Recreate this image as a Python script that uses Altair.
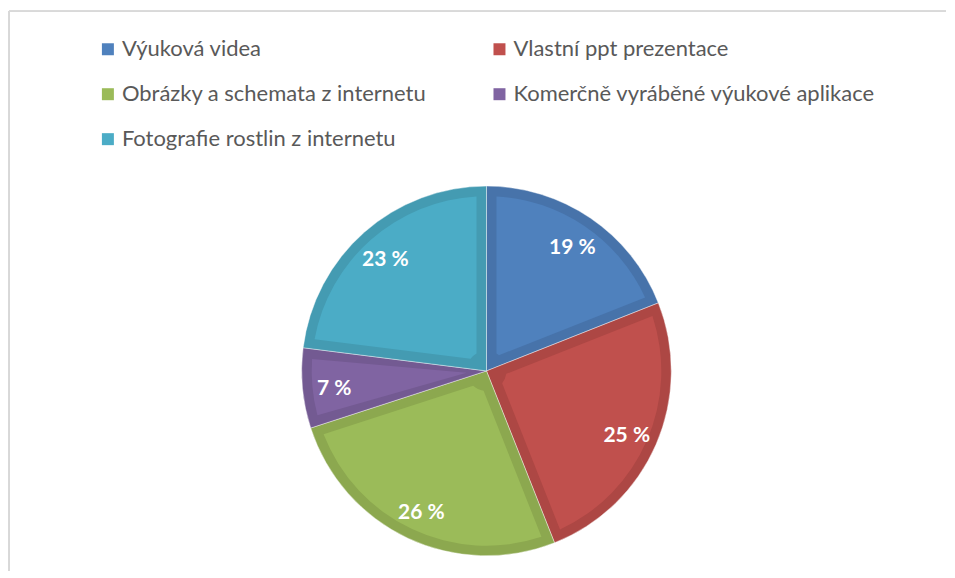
import altair as alt
import pandas as pd

categories = [
    "Výuková videa",
    "Vlastní ppt prezentace",
    "Obrázky a schemata z internetu",
    "Komerčně vyráběné výukové aplikace",
    "Fotografie rostlin z internetu",
]
values = [19, 25, 26, 7, 23]
labels = ["19 %", "25 %", "26 %", "7 %", "23 %"]
fill_colors = ["#4F81BD", "#C0504D", "#9BBB59", "#8064A2", "#4BACC6"]
band_colors = ["#4773AA", "#AD4744", "#8CA84F", "#735A92", "#449BB2"]

# legend is laid out column by column: this order gives the reference's rows
legend_order = [0, 2, 4, 1, 3]

df = pd.DataFrame({
    "cat": categories,
    "val": values,
    "lab": labels,
    "idx": list(range(len(categories))),
})

leg_domain = [categories[i] for i in legend_order]
leg_fill = [fill_colors[i] for i in legend_order]
leg_band = [band_colors[i] for i in legend_order]

W, H = 938, 560
CX, CY = 478, 360
R = 185

base = alt.Chart(df).encode(
    theta=alt.Theta("val:Q", stack=True),
    order=alt.Order("idx:Q"),
    x=alt.value(CX),
    y=alt.value(CY),
)

band = base.mark_arc(outerRadius=R, stroke="white", strokeWidth=0.8, strokeOpacity=0.5).encode(
    color=alt.Color("cat:N", scale=alt.Scale(domain=leg_domain, range=leg_band), legend=None)
)

inner = base.mark_arc(outerRadius=R - 10, innerRadius=20, padAngle=0.1136).encode(
    fill=alt.Fill(
        "cat:N",
        scale=alt.Scale(domain=leg_domain, range=leg_fill),
        legend=alt.Legend(
            title=None,
            orient="none",
            legendX=88,
            legendY=27,
            columns=2,
            columnPadding=62,
            rowPadding=23,
            symbolType="square",
            symbolSize=144,
            symbolStrokeWidth=0,
            labelFontSize=22,
            labelFont="Lato",
            labelColor="#595959",
            labelOffset=3,
            labelLimit=600,
            padding=0,
        ),
    )
)

text = base.mark_text(radius=153, dy=4, font="Lato", fontSize=21, fontWeight="bold", color="white").encode(
    text="lab:N"
)

border_top = alt.Chart(df).mark_rule(color="#D9D9D9", strokeWidth=1.5).encode(
    x=alt.value(0), x2=alt.value(W), y=alt.value(0)
)
border_left = alt.Chart(df).mark_rule(color="#D9D9D9", strokeWidth=1.5).encode(
    x=alt.value(0), y=alt.value(0), y2=alt.value(H)
)

chart = (
    alt.layer(border_top, border_left, band, inner, text)
    .resolve_scale(color="independent", fill="independent")
    .properties(width=W, height=H, padding={"left": 0, "top": 2, "right": 0, "bottom": 0})
    .configure_view(stroke=None)
)

chart.save("out.html", embed_options={"renderer": "svg", "actions": False})
